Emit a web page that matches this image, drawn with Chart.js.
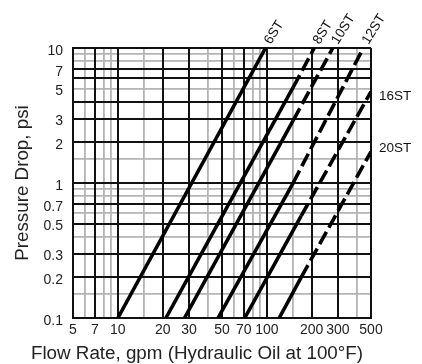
<!DOCTYPE html>
<html>
<head>
<meta charset="utf-8">
<script src="https://cdn.jsdelivr.net/npm/chart.js@4.4.1/dist/chart.umd.min.js"></script>
<style>
  html, body { margin: 0; padding: 0; background: #fff; }
  #wrap { width: 422px; height: 364px; }
</style>
</head>
<body>
<div id="wrap"><canvas id="graph1" width="422" height="364"></canvas></div>
<script>
// strainer sizes and the curves (gpm / psi)
var names = ['6ST', '8ST', '10ST', '12ST', '16ST', '20ST'];
var startFlow = [10, 21, 28, 47, 71, 121];
var startDrop = [0.1, 0.1, 0.1, 0.1, 0.1, 0.1];
var dashFlow = [null, 150, 150, 150, 170, 170];   // dashed part starts here
var dashDrop = [null, 5.1, 2.9, 1.0, 0.57, 0.2];
var endFlow = [98, 208, 277, 444, 500, 500];
var endDrop = [10, 10, 10, 10, 4.75, 1.71];

// axis ticks / grid
var xTicks = [5, 7, 10, 20, 30, 50, 70, 100, 200, 300, 500];
var xMinor = [6, 8, 9, 15, 40, 60, 80, 90, 150, 400];
var yLabels = [0.1, 0.2, 0.3, 0.5, 0.7, 1, 2, 3, 5, 7, 10];
var yTicks = [0.1, 0.2, 0.3, 0.5, 0.7, 1, 2, 3, 4, 5, 6, 7, 10];
var yMinor = [0.15, 0.4, 0.6, 0.8, 0.9, 1.5, 5, 8, 9];

var FONT = '"Liberation Sans", Arial, sans-serif';
var BLACK = '#111';
var GRAY = '#b4b4b4';

var datasets = names.map(function (n, i) {
  var pts = [{ x: startFlow[i], y: startDrop[i] }];
  if (dashFlow[i] != null) pts.push({ x: dashFlow[i], y: dashDrop[i] });
  pts.push({ x: endFlow[i], y: endDrop[i] });
  var dashed = dashFlow[i] != null;
  return {
    label: n,
    data: pts,
    borderColor: '#000',
    borderWidth: 3.6,
    borderCapStyle: 'butt',
    pointRadius: 0,
    fill: false,
    tension: 0,
    segment: {
      borderDash: function (c) { return dashed && c.p0DataIndex >= 1 ? [14, 5] : []; }
    }
  };
});

function setTicks(list) {
  return function (scale) { scale.ticks = list.map(function (v) { return { value: v }; }); };
}

var labelPlugin = {
  id: 'labels',
  afterDatasetsDraw: function (chart) {
    var ctx = chart.ctx;
    var area = chart.chartArea;
    ctx.save();
    ctx.fillStyle = '#111';
    ctx.font = '13.5px ' + FONT;
    names.forEach(function (n, i) {
      var pts = chart.getDatasetMeta(i).data;
      var p = pts[pts.length - 1];
      if (endDrop[i] >= 10) {
        ctx.save();
        ctx.translate(p.x + 2, area.top - 5);
        ctx.rotate(-58 * Math.PI / 180);
        ctx.textAlign = 'left';
        ctx.textBaseline = 'middle';
        ctx.fillText(n, 0, 0);
        ctx.restore();
      } else {
        ctx.textAlign = 'left';
        ctx.textBaseline = 'middle';
        ctx.fillText(n, area.right + 8, p.y + (i === 4 ? 5 : -3));
      }
    });
    // axis titles
    ctx.font = '18.8px ' + FONT;
    ctx.fillStyle = '#222';
    ctx.textAlign = 'center';
    ctx.textBaseline = 'alphabetic';
    ctx.fillText('Flow Rate, gpm (Hydraulic Oil at 100°F)', 197, 359);
    ctx.save();
    ctx.translate(28, (area.top + area.bottom) / 2);
    ctx.rotate(-Math.PI / 2);
    ctx.fillText('Pressure Drop, psi', 0, 0);
    ctx.restore();
    ctx.restore();
  }
};

var chart = new Chart(document.getElementById('graph1').getContext('2d'), {
  type: 'line',
  data: { datasets: datasets },
  plugins: [labelPlugin],
  options: {
    responsive: false,
    animation: false,
    layout: { padding: { top: 48, right: 51, left: 0, bottom: 0 } },
    plugins: { legend: { display: false }, tooltip: { enabled: false } },
    scales: {
      xm: {
        type: 'logarithmic', position: 'bottom', min: 5, max: 500, z: -1,
        afterBuildTicks: setTicks(xMinor),
        afterFit: function (s) { s.height = 0; },
        ticks: { display: false },
        grid: { color: GRAY, lineWidth: 1.8, drawTicks: false },
        border: { display: false }
      },
      ym: {
        type: 'logarithmic', position: 'left', min: 0.1, max: 10, z: -1,
        afterBuildTicks: setTicks(yMinor),
        afterFit: function (s) { s.width = 0; },
        ticks: { display: false },
        grid: { color: GRAY, lineWidth: 1.8, drawTicks: false },
        border: { display: false }
      },
      x: {
        type: 'logarithmic', position: 'bottom', min: 5, max: 500,
        afterBuildTicks: setTicks(xTicks),
        afterFit: function (s) { s.height = 46; },
        ticks: {
          autoSkip: false, maxRotation: 0, padding: 4, color: '#222',
          font: { family: FONT, size: 14 },
          callback: function (v) { return String(v); }
        },
        grid: { color: BLACK, lineWidth: 2, drawTicks: false },
        border: { color: BLACK, width: 2 }
      },
      y: {
        type: 'logarithmic', position: 'left', min: 0.1, max: 10,
        afterBuildTicks: setTicks(yTicks),
        afterFit: function (s) { s.width = 73; },
        ticks: {
          autoSkip: false, padding: 10, labelOffset: 3, color: '#222',
          font: { family: FONT, size: 14 },
          callback: function (v) { return yLabels.indexOf(v) >= 0 ? String(v) : ''; }
        },
        grid: {
          color: function (c) { return c.tick && c.tick.value === 5 ? 'rgba(0,0,0,0)' : BLACK; },
          lineWidth: 2, drawTicks: false
        },
        border: { color: BLACK, width: 2 }
      }
    }
  }
});
</script>
</body>
</html>
